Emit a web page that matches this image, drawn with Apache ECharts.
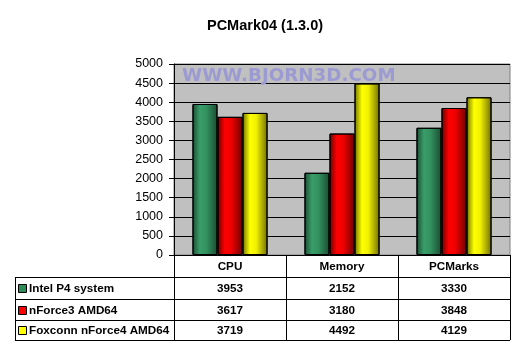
<!DOCTYPE html>
<html>
<head>
<meta charset="utf-8">
<script src="https://cdn.jsdelivr.net/npm/echarts@6/dist/echarts.min.js"></script>
<style>
  html, body { margin: 0; padding: 0; background: #fff; }
  #chart { width: 522px; height: 353px; }
</style>
</head>
<body>
<div id="chart"></div>
<script>
var categories = ['CPU', 'Memory', 'PCMarks'];
var seriesNames = ['Intel P4 system', 'nForce3 AMD64', 'Foxconn nForce4 AMD64'];
var intelP4 = [3953, 2152, 3330];
var nforce3 = [3617, 3180, 3848];
var foxconn = [3719, 4492, 4129];
var yTicks = [0, 500, 1000, 1500, 2000, 2500, 3000, 3500, 4000, 4500, 5000];

var FONT = '"Liberation Sans", Arial, sans-serif';

function barGrad(dark, mid, light) {
  return new echarts.graphic.LinearGradient(0, 0, 1, 0, [
    { offset: 0, color: dark },
    { offset: 0.3, color: light },
    { offset: 0.55, color: mid },
    { offset: 1, color: dark }
  ]);
}

var colors = [
  barGrad('#1a4d33', '#33925f', '#3a9d6a'),
  barGrad('#700000', '#f00000', '#ff0000'),
  barGrad('#707000', '#f0f000', '#ffff00')
];
var keyColors = ['#2e8b57', '#ff0000', '#ffff00'];
var allValues = [intelP4, nforce3, foxconn];

var chart = echarts.init(document.getElementById('chart'));

var series = allValues.map(function (vals, i) {
  return {
    name: seriesNames[i],
    type: 'bar',
    data: vals,
    barGap: '0%',
    barCategoryGap: '33%',
    itemStyle: { color: colors[i], borderColor: '#000', borderWidth: 1 }
  };
});

var watermark = {
  type: 'text', left: 182, top: 67, z: 10,
  style: { text: 'WWW.BJORN3D.COM', fill: '#9c9ad2', font: 'bold 18.3px "DejaVu Sans", Verdana, sans-serif' }
};

chart.setOption({
  animation: false,
  title: {
    text: 'PCMark04 (1.3.0)',
    left: 260, top: 13, textAlign: 'center',
    textStyle: { fontFamily: FONT, fontSize: 14.5, fontWeight: 'bold', color: '#000' }
  },
  grid: { left: 174, top: 64, right: 12, bottom: 98, show: true, backgroundColor: '#c0c0c0', borderColor: '#808080', borderWidth: 1 },
  xAxis: {
    type: 'category',
    data: categories,
    axisLine: { lineStyle: { color: '#000' } },
    axisTick: { show: true, length: 3, lineStyle: { color: '#000' } },
    axisLabel: { show: false }
  },
  yAxis: {
    type: 'value',
    min: yTicks[0], max: yTicks[yTicks.length - 1], interval: 500,
    axisLine: { show: true, lineStyle: { color: '#000' } },
    axisTick: { show: true, length: 5, lineStyle: { color: '#000' } },
    axisLabel: { fontFamily: FONT, fontSize: 12.5, color: '#000', margin: 11,
      formatter: function (v) { return String(v); } },
    splitLine: { lineStyle: { color: '#000', width: 1 } }
  },
  graphic: [watermark],
  series: series
});

// data table under the plot
function drawTable() {
  var els = [];
  var half = 56;
  var x0 = 174, x1 = 510, xl = 15;
  var rows = [255, 277, 299, 320, 340];
  var line = { stroke: '#000', lineWidth: 1 };
  var tf = 'bold 11.7px ' + FONT;
  els.push({ type: 'line', shape: { x1: x0, y1: rows[0] + 0.5, x2: x1, y2: rows[0] + 0.5 }, style: line });
  for (var r = 1; r < rows.length; r++) {
    els.push({ type: 'line', shape: { x1: xl, y1: rows[r] + 0.5, x2: x1, y2: rows[r] + 0.5 }, style: line });
  }
  els.push({ type: 'line', shape: { x1: xl + 0.5, y1: rows[1], x2: xl + 0.5, y2: rows[4] }, style: line });
  els.push({ type: 'line', shape: { x1: x0 + 0.5, y1: rows[0], x2: x0 + 0.5, y2: rows[4] }, style: line });
  categories.forEach(function (c, ci) {
    var cx = chart.convertToPixel({ xAxisIndex: 0 }, c);
    var right = Math.round(cx + half) + 0.5;
    els.push({ type: 'line', shape: { x1: right, y1: rows[0], x2: right, y2: rows[4] }, style: line });
    els.push({ type: 'text', x: cx, y: (rows[0] + rows[1]) / 2 + 1,
      style: { text: c, font: tf, fill: '#000', align: 'center', verticalAlign: 'middle' } });
    allValues.forEach(function (vals, si) {
      els.push({ type: 'text', x: cx, y: (rows[si + 1] + rows[si + 2]) / 2 + 1,
        style: { text: String(vals[ci]), font: tf, fill: '#000', align: 'center', verticalAlign: 'middle' } });
    });
  });
  seriesNames.forEach(function (n, si) {
    var cy = (rows[si + 1] + rows[si + 2]) / 2 + 1;
    els.push({ type: 'rect', shape: { x: 18.5, y: Math.round(cy) - 4.5, width: 8, height: 8 },
      style: { fill: keyColors[si], stroke: '#000', lineWidth: 1 } });
    els.push({ type: 'text', x: 29, y: cy,
      style: { text: n, font: tf, fill: '#000', align: 'left', verticalAlign: 'middle' } });
  });
  chart.setOption({ graphic: [watermark, { type: 'group', children: els }] });
}
drawTable();
</script>
</body>
</html>
